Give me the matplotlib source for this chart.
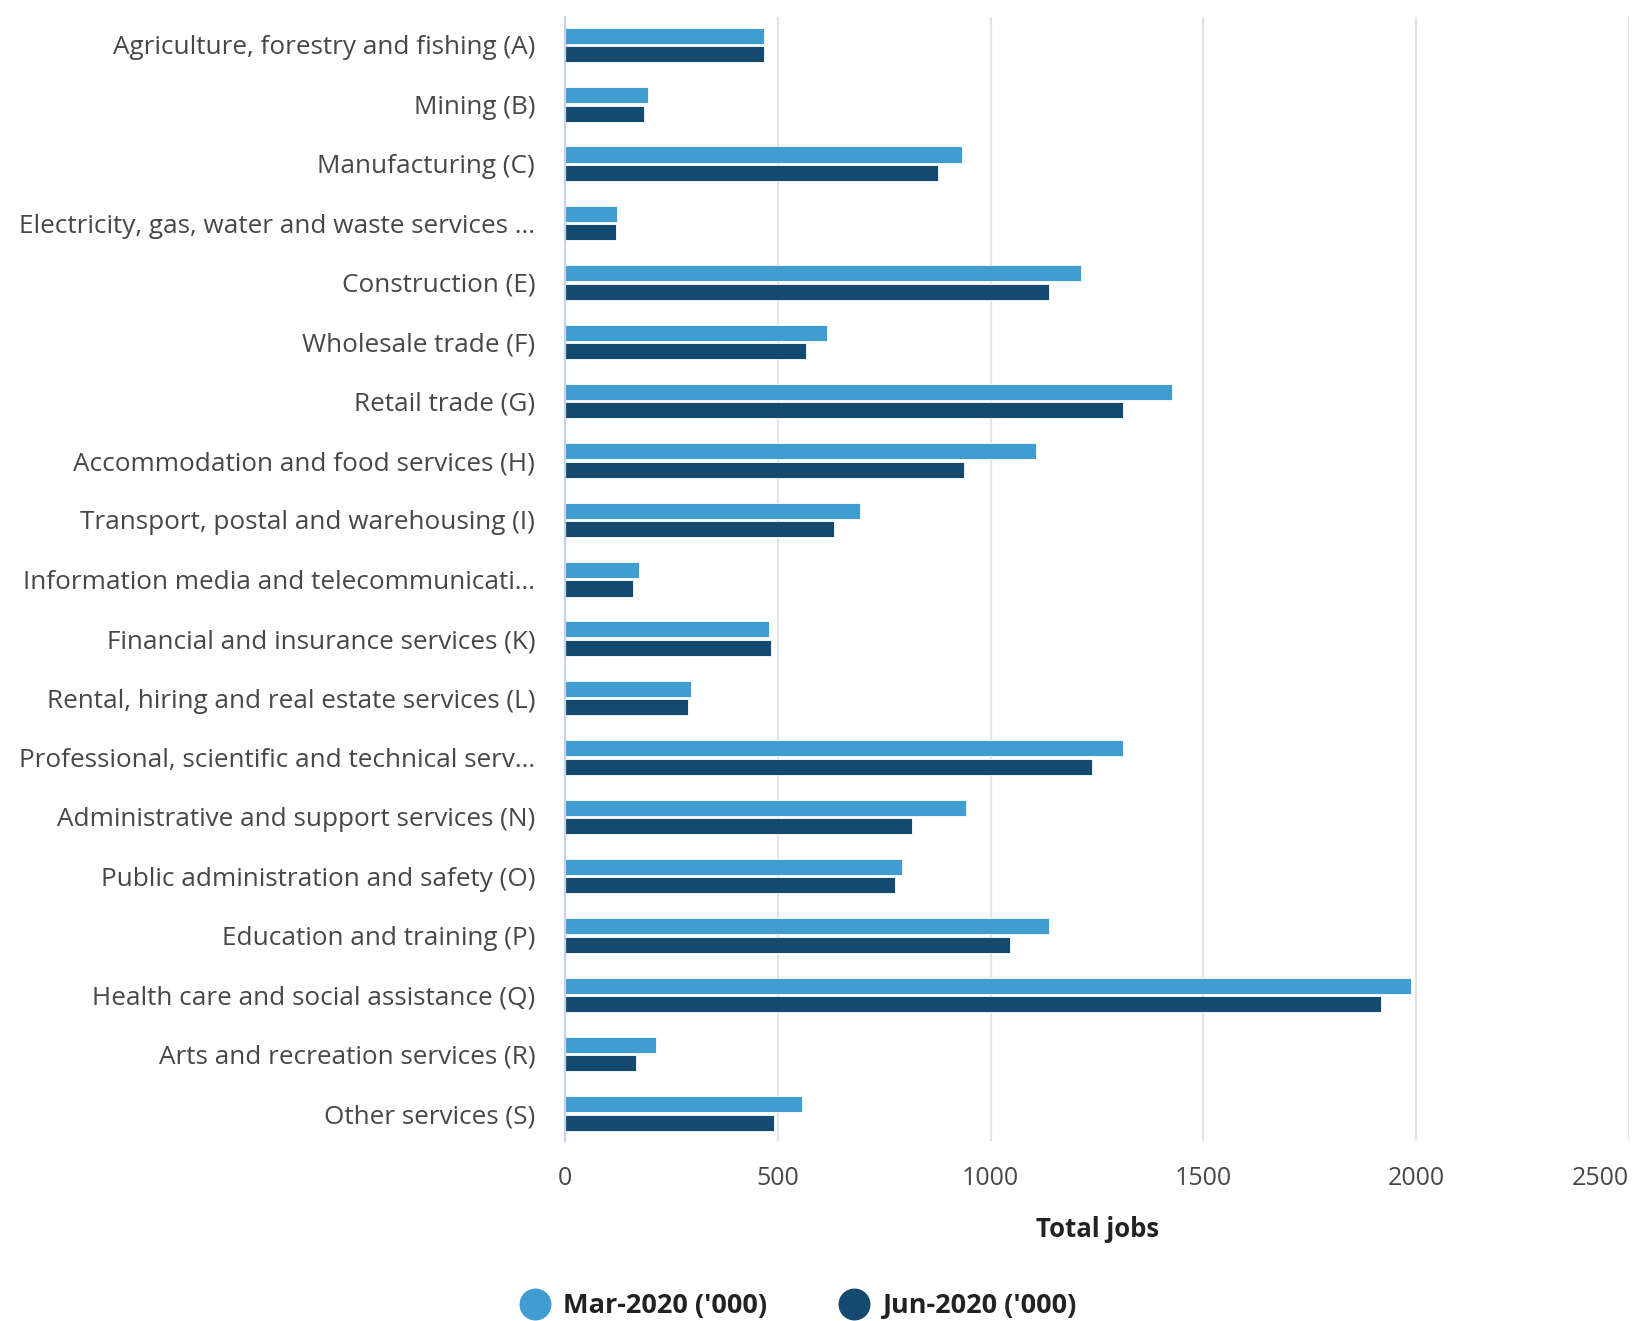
import numpy as np
import matplotlib
matplotlib.use("Agg")
import matplotlib.pyplot as plt
from matplotlib.lines import Line2D

plt.rcParams['font.family'] = ['Open Sans', 'DejaVu Sans']

industries = [
    "Agriculture, forestry and fishing (A)",
    "Mining (B)",
    "Manufacturing (C)",
    "Electricity, gas, water and waste services ...",
    "Construction (E)",
    "Wholesale trade (F)",
    "Retail trade (G)",
    "Accommodation and food services (H)",
    "Transport, postal and warehousing (I)",
    "Information media and telecommunicati...",
    "Financial and insurance services (K)",
    "Rental, hiring and real estate services (L)",
    "Professional, scientific and technical serv...",
    "Administrative and support services (N)",
    "Public administration and safety (O)",
    "Education and training (P)",
    "Health care and social assistance (Q)",
    "Arts and recreation services (R)",
    "Other services (S)",
]

# jobs in thousands
mar_2020 = [467, 196, 933, 122, 1212, 615, 1427, 1107, 693, 174,
            480, 296, 1310, 943, 791, 1136, 1988, 213, 556]
jun_2020 = [467, 186, 877, 120, 1136, 566, 1310, 938, 632, 159,
            485, 289, 1239, 815, 776, 1046, 1917, 166, 490]

x_ticks = [0, 500, 1000, 1500, 2000, 2500]

light = "#3f9dd1"
dark = "#144a70"
text_col = "#474747"

fig = plt.figure(figsize=(16.34, 13.21), dpi=100)
ax = fig.add_axes([0.3458, 0.1363, 0.6512, 0.8508])

y = np.arange(len(industries))
h = 0.27
ax.barh(y - 0.155, mar_2020, height=h, color=light, edgecolor="white", linewidth=0.6, zorder=3)
ax.barh(y + 0.155, jun_2020, height=h, color=dark, edgecolor="white", linewidth=0.6, zorder=3)

ax.set_ylim(len(industries) - 0.54, -0.47)
ax.set_xlim(0, 2500)
ax.set_xticks(x_ticks)
ax.set_xticklabels([str(t) for t in x_ticks])
# keep the last tick label inside the figure
ax.get_xticklabels()[-1].set_horizontalalignment("right")
ax.set_yticks(y)
ax.set_yticklabels(industries)

ax.grid(axis="x", color="#e4e4e4", linewidth=1.6, zorder=0)
ax.set_axisbelow(True)
for s in ["top", "right", "bottom"]:
    ax.spines[s].set_visible(False)
ax.spines["left"].set_color("#c5d3ea")
ax.spines["left"].set_linewidth(1.6)
ax.spines["left"].set_zorder(4)

ax.tick_params(axis="y", length=0, pad=21.5, labelsize=18.8, labelcolor=text_col)
ax.tick_params(axis="x", length=0, pad=18, labelsize=18, labelcolor=text_col)
ax.set_xlabel("Total jobs", fontsize=18.5, fontweight="bold", color="#222222", labelpad=18)

handles = [
    Line2D([], [], marker="o", linestyle="", markersize=22, color=light, label="Mar-2020 ('000)"),
    Line2D([], [], marker="o", linestyle="", markersize=22, color=dark, label="Jun-2020 ('000)"),
]
leg = fig.legend(handles=handles, loc="center", bbox_to_anchor=(0.485, 0.011), ncol=2,
                 frameon=False, handletextpad=0.05, columnspacing=2.2,
                 prop={"size": 19.5, "weight": "bold"})
for t in leg.get_texts():
    t.set_color("#222222")

fig.savefig("out.png", dpi=100, facecolor="white")
